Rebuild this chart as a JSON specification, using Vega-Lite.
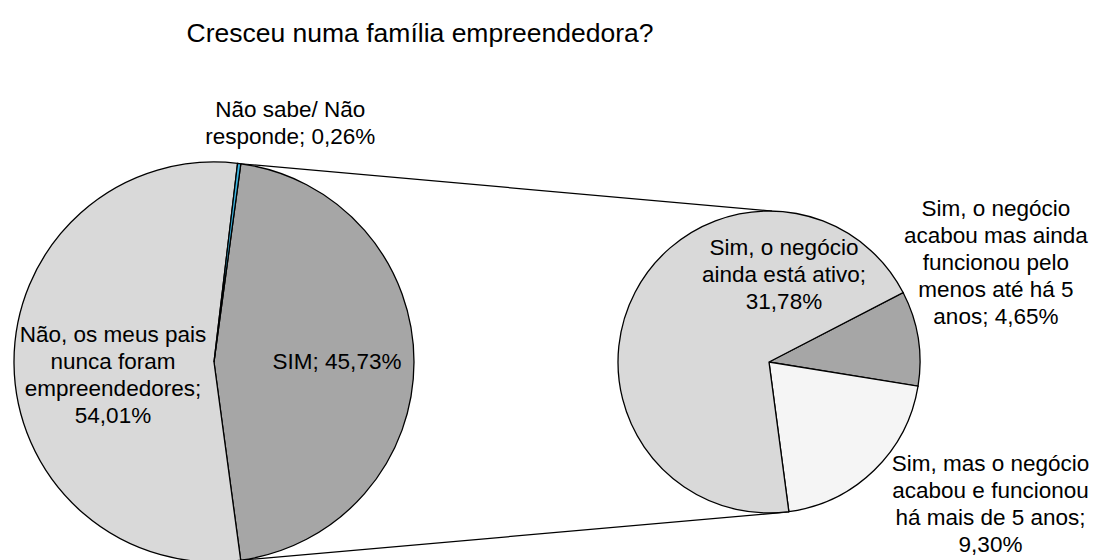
{
  "$schema": "https://vega.github.io/schema/vega-lite/v6.json",
  "width": 1096,
  "height": 560,
  "padding": 0,
  "autosize": {"type": "none"},
  "background": "white",
  "config": {"view": {"stroke": null}, "text": {"font": "Liberation Sans"}},
  "datasets": {
    "main": [
      {"cat": "SIM", "label": "SIM; 45,73%", "value": 45.73, "ord": 1},
      {"cat": "Não, os meus pais nunca foram empreendedores", "label": "Não, os meus pais\nnunca foram\nempreendedores;\n54,01%", "value": 54.01, "ord": 2},
      {"cat": "Não sabe/ Não responde", "label": "Não sabe/ Não\nresponde; 0,26%", "value": 0.26, "ord": 3}
    ],
    "sub": [
      {"cat": "Sim, o negócio acabou mas ainda funcionou pelo menos até há 5 anos", "label": "Sim, o negócio\nacabou mas ainda\nfuncionou pelo\nmenos até há 5\nanos; 4,65%", "value": 4.65, "ord": 1},
      {"cat": "Sim, mas o negócio acabou e funcionou há mais de 5 anos", "label": "Sim, mas o negócio\nacabou e funcionou\nhá mais de 5 anos;\n9,30%", "value": 9.30, "ord": 2},
      {"cat": "Sim, o negócio ainda está ativo", "label": "Sim, o negócio\nainda está ativo;\n31,78%", "value": 31.78, "ord": 3}
    ]
  },
  "resolve": {"scale": {"theta": "independent"}},
  "layer": [
    {
      "data": {"values": [{}]},
      "mark": {"type": "rule", "color": "black", "strokeWidth": 1.2},
      "encoding": {
        "x": {"datum": 240.8, "type": "quantitative", "scale": {"domain": [0, 1096], "nice": false, "zero": false}, "axis": null},
        "y": {"datum": 163.8, "type": "quantitative", "scale": {"domain": [0, 560], "nice": false, "zero": false, "reverse": true}, "axis": null},
        "x2": {"datum": 772},
        "y2": {"datum": 211}
      }
    },
    {
      "data": {"values": [{}]},
      "mark": {"type": "rule", "color": "black", "strokeWidth": 1.2},
      "encoding": {
        "x": {"datum": 240.8, "type": "quantitative"},
        "y": {"datum": 560.2, "type": "quantitative"},
        "x2": {"datum": 789},
        "y2": {"datum": 512}
      }
    },
    {
      "data": {"name": "main"},
      "mark": {"type": "arc", "radius": 200, "stroke": "black", "strokeWidth": 1.3},
      "encoding": {
        "x": {"datum": 214, "type": "quantitative"},
        "y": {"datum": 362, "type": "quantitative"},
        "theta": {"field": "value", "type": "quantitative", "stack": true, "scale": {"range": [0.1344, 6.4176]}},
        "order": {"field": "ord", "type": "quantitative"},
        "color": {
          "field": "cat", "type": "nominal", "legend": null,
          "scale": {
            "domain": ["SIM", "Não, os meus pais nunca foram empreendedores", "Não sabe/ Não responde", "Sim, o negócio acabou mas ainda funcionou pelo menos até há 5 anos", "Sim, mas o negócio acabou e funcionou há mais de 5 anos", "Sim, o negócio ainda está ativo"],
            "range": ["#a6a6a6", "#d9d9d9", "#3cb4e0", "#a6a6a6", "#f5f5f5", "#d9d9d9"]
          }
        }
      }
    },
    {
      "data": {"name": "sub"},
      "mark": {"type": "arc", "radius": 151, "stroke": "black", "strokeWidth": 1.3},
      "encoding": {
        "x": {"datum": 769, "type": "quantitative"},
        "y": {"datum": 362, "type": "quantitative"},
        "theta": {"field": "value", "type": "quantitative", "stack": true, "scale": {"range": [1.093, 7.3762]}},
        "order": {"field": "ord", "type": "quantitative"},
        "color": {"field": "cat", "type": "nominal", "legend": null}
      }
    },
    {
      "data": {"name": "main"},
      "mark": {"type": "text", "radius": 123, "fontSize": 22.5, "lineHeight": 27, "align": "center", "baseline": "middle", "lineBreak": "\n", "color": "black"},
      "encoding": {
        "x": {"datum": 214, "type": "quantitative"},
        "y": {"datum": 362, "type": "quantitative"},
        "theta": {"field": "value", "type": "quantitative", "stack": true, "scale": {"range": [0.1344, 6.4176]}},
        "order": {"field": "ord", "type": "quantitative"},
        "text": {"condition": {"test": "datum.ord === 1", "field": "label", "type": "nominal"}, "value": ""}
      }
    },
    {
      "data": {"name": "main"},
      "mark": {"type": "text", "radius": 101, "dy": -28, "fontSize": 22.5, "lineHeight": 27, "align": "center", "baseline": "middle", "lineBreak": "\n", "color": "black"},
      "encoding": {
        "x": {"datum": 214, "type": "quantitative"},
        "y": {"datum": 362, "type": "quantitative"},
        "theta": {"field": "value", "type": "quantitative", "stack": true, "scale": {"range": [0.1344, 6.4176]}},
        "order": {"field": "ord", "type": "quantitative"},
        "text": {"condition": {"test": "datum.ord === 2", "field": "label", "type": "nominal"}, "value": ""}
      }
    },
    {
      "data": {"name": "main"},
      "mark": {"type": "text", "radius": 240, "dx": 46, "dy": -14, "fontSize": 22.5, "lineHeight": 27, "align": "center", "baseline": "middle", "lineBreak": "\n", "color": "black"},
      "encoding": {
        "x": {"datum": 214, "type": "quantitative"},
        "y": {"datum": 362, "type": "quantitative"},
        "theta": {"field": "value", "type": "quantitative", "stack": true, "scale": {"range": [0.1344, 6.4176]}},
        "order": {"field": "ord", "type": "quantitative"},
        "text": {"condition": {"test": "datum.ord === 3", "field": "label", "type": "nominal"}, "value": ""}
      }
    },
    {
      "data": {"name": "sub"},
      "mark": {"type": "text", "radius": 248, "dx": -18, "dy": -114, "fontSize": 22.5, "lineHeight": 27, "align": "center", "baseline": "middle", "lineBreak": "\n", "color": "black"},
      "encoding": {
        "x": {"datum": 769, "type": "quantitative"},
        "y": {"datum": 362, "type": "quantitative"},
        "theta": {"field": "value", "type": "quantitative", "stack": true, "scale": {"range": [1.093, 7.3762]}},
        "order": {"field": "ord", "type": "quantitative"},
        "text": {"condition": {"test": "datum.ord === 1", "field": "label", "type": "nominal"}, "value": ""}
      }
    },
    {
      "data": {"name": "sub"},
      "mark": {"type": "text", "radius": 272, "dx": 32, "dy": -93, "fontSize": 22.5, "lineHeight": 27, "align": "center", "baseline": "middle", "lineBreak": "\n", "color": "black"},
      "encoding": {
        "x": {"datum": 769, "type": "quantitative"},
        "y": {"datum": 362, "type": "quantitative"},
        "theta": {"field": "value", "type": "quantitative", "stack": true, "scale": {"range": [1.093, 7.3762]}},
        "order": {"field": "ord", "type": "quantitative"},
        "text": {"condition": {"test": "datum.ord === 2", "field": "label", "type": "nominal"}, "value": ""}
      }
    },
    {
      "data": {"name": "sub"},
      "mark": {"type": "text", "radius": 0, "dx": 15, "dy": -114, "fontSize": 22.5, "lineHeight": 27, "align": "center", "baseline": "middle", "lineBreak": "\n", "color": "black"},
      "encoding": {
        "x": {"datum": 769, "type": "quantitative"},
        "y": {"datum": 362, "type": "quantitative"},
        "theta": {"field": "value", "type": "quantitative", "stack": true, "scale": {"range": [1.093, 7.3762]}},
        "order": {"field": "ord", "type": "quantitative"},
        "text": {"condition": {"test": "datum.ord === 3", "field": "label", "type": "nominal"}, "value": ""}
      }
    },
    {
      "data": {"values": [{"title": "Cresceu numa família empreendedora?"}]},
      "mark": {"type": "text", "fontSize": 26.5, "align": "center", "baseline": "middle", "color": "black"},
      "encoding": {
        "x": {"datum": 420, "type": "quantitative"},
        "y": {"datum": 34, "type": "quantitative"},
        "text": {"field": "title", "type": "nominal"}
      }
    }
  ]
}
